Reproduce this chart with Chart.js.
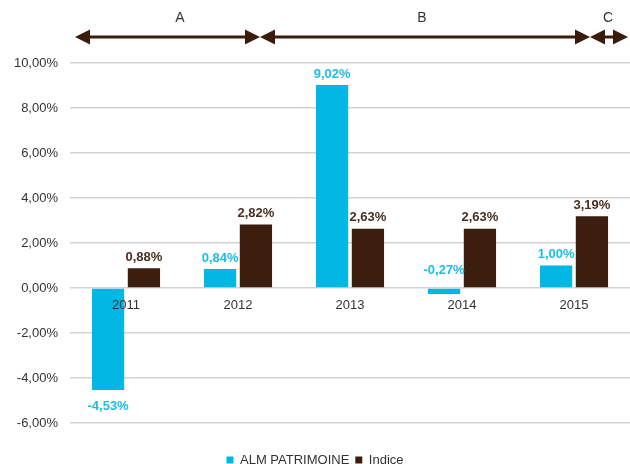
<!DOCTYPE html>
<html>
<head>
<meta charset="utf-8">
<script src="https://cdn.jsdelivr.net/npm/chart.js@4/dist/chart.umd.min.js"></script>
<style>
  html, body { margin: 0; padding: 0; background: #ffffff; }
  #wrap { width: 630px; height: 464px; position: relative; }
</style>
</head>
<body>
<div id="wrap"><canvas id="c" width="630" height="464"></canvas></div>
<script>
const categories = ['2011', '2012', '2013', '2014', '2015'];
const almValues = [-4.53, 0.84, 9.02, -0.27, 1.00];
const indiceValues = [0.88, 2.82, 2.63, 2.63, 3.19];
const seriesNames = ['ALM PATRIMOINE', 'Indice'];
const periodLabels = ['A', 'B', 'C'];
const yTicks = { min: -6, max: 10, step: 2 };

const CYAN = '#00B8E3';
const BROWN = '#3C1E0F';
const CYAN_TXT = '#1DBDEA';
const BROWN_TXT = '#4A2F20';
const FONT = "'Liberation Sans', Arial, sans-serif";

function fmt(v) { return v.toFixed(2).replace('.', ',') + '%'; }

const labelPlugin = {
  id: 'valueLabels',
  afterDatasetsDraw(chart) {
    const ctx = chart.ctx;
    ctx.save();
    ctx.font = 'bold 13px ' + FONT;
    ctx.textAlign = 'center';
    ctx.textBaseline = 'middle';
    chart.data.datasets.forEach((ds, di) => {
      const meta = chart.getDatasetMeta(di);
      ctx.fillStyle = di === 0 ? CYAN_TXT : BROWN_TXT;
      meta.data.forEach((bar, i) => {
        const v = ds.data[i];
        let y;
        if (v < -1) {
          y = Math.max(bar.y, bar.base) + 16;
        } else {
          y = Math.min(bar.y, bar.base) - (v < 0 ? 18 : 11);
        }
        ctx.fillText(fmt(v), bar.x, y);
      });
    });
    ctx.restore();
  }
};

const arrowPlugin = {
  id: 'periodArrows',
  afterDraw(chart) {
    const ctx = chart.ctx;
    const y = 37;
    const spans = [[75, 260], [260, 590], [590, 628]];
    const labelX = [180, 422, 608];
    ctx.save();
    ctx.strokeStyle = '#3A1C0C';
    ctx.fillStyle = '#3A1C0C';
    ctx.lineWidth = 3;
    const head = 15, hw = 7.5;
    spans.forEach(([x0, x1]) => {
      ctx.beginPath();
      ctx.moveTo(x0 + head - 2, y);
      ctx.lineTo(x1 - head + 2, y);
      ctx.stroke();
      ctx.beginPath();
      ctx.moveTo(x0, y);
      ctx.lineTo(x0 + head, y - hw);
      ctx.lineTo(x0 + head, y + hw);
      ctx.closePath();
      ctx.fill();
      ctx.beginPath();
      ctx.moveTo(x1, y);
      ctx.lineTo(x1 - head, y - hw);
      ctx.lineTo(x1 - head, y + hw);
      ctx.closePath();
      ctx.fill();
    });
    ctx.fillStyle = '#333333';
    ctx.font = '14px ' + FONT;
    ctx.textAlign = 'center';
    ctx.textBaseline = 'middle';
    periodLabels.forEach((t, i) => ctx.fillText(t, labelX[i], 18));
    ctx.restore();
  }
};

new Chart(document.getElementById('c'), {
  type: 'bar',
  data: {
    labels: categories,
    datasets: [
      { label: seriesNames[0], data: almValues, backgroundColor: CYAN, borderWidth: 0 },
      { label: seriesNames[1], data: indiceValues, backgroundColor: BROWN, borderWidth: 0 }
    ]
  },
  options: {
    responsive: false,
    animation: false,
    devicePixelRatio: 1,
    layout: { padding: { top: 63, right: 0, left: 0, bottom: -12.5 } },
    datasets: { bar: { categoryPercentage: 0.64, barPercentage: 0.9 } },
    plugins: {
      legend: {
        position: 'bottom',
        title: { display: true, text: '', font: { size: 10 }, padding: { top: 12.5, bottom: 0 } },
        labels: {
          boxWidth: 7, boxHeight: 7, padding: 6,
          color: '#333333',
          font: { family: FONT, size: 13 }
        }
      },
      tooltip: { enabled: false }
    },
    scales: {
      x: {
        position: { y: 0 },
        grid: { display: false, drawTicks: false },
        border: { display: false },
        ticks: { z: 1, color: '#333333', padding: 10, font: { family: FONT, size: 13 } }
      },
      y: {
        min: yTicks.min, max: yTicks.max,
        grid: { color: '#D3D3D3', lineWidth: 1.5, drawTicks: false },
        border: { display: false },
        ticks: {
          stepSize: yTicks.step, padding: 12, color: '#333333',
          font: { family: FONT, size: 13 },
          callback: v => fmt(v)
        },
        afterFit(scale) { scale.width = 70; }
      }
    }
  },
  plugins: [labelPlugin, arrowPlugin]
});
</script>
</body>
</html>
